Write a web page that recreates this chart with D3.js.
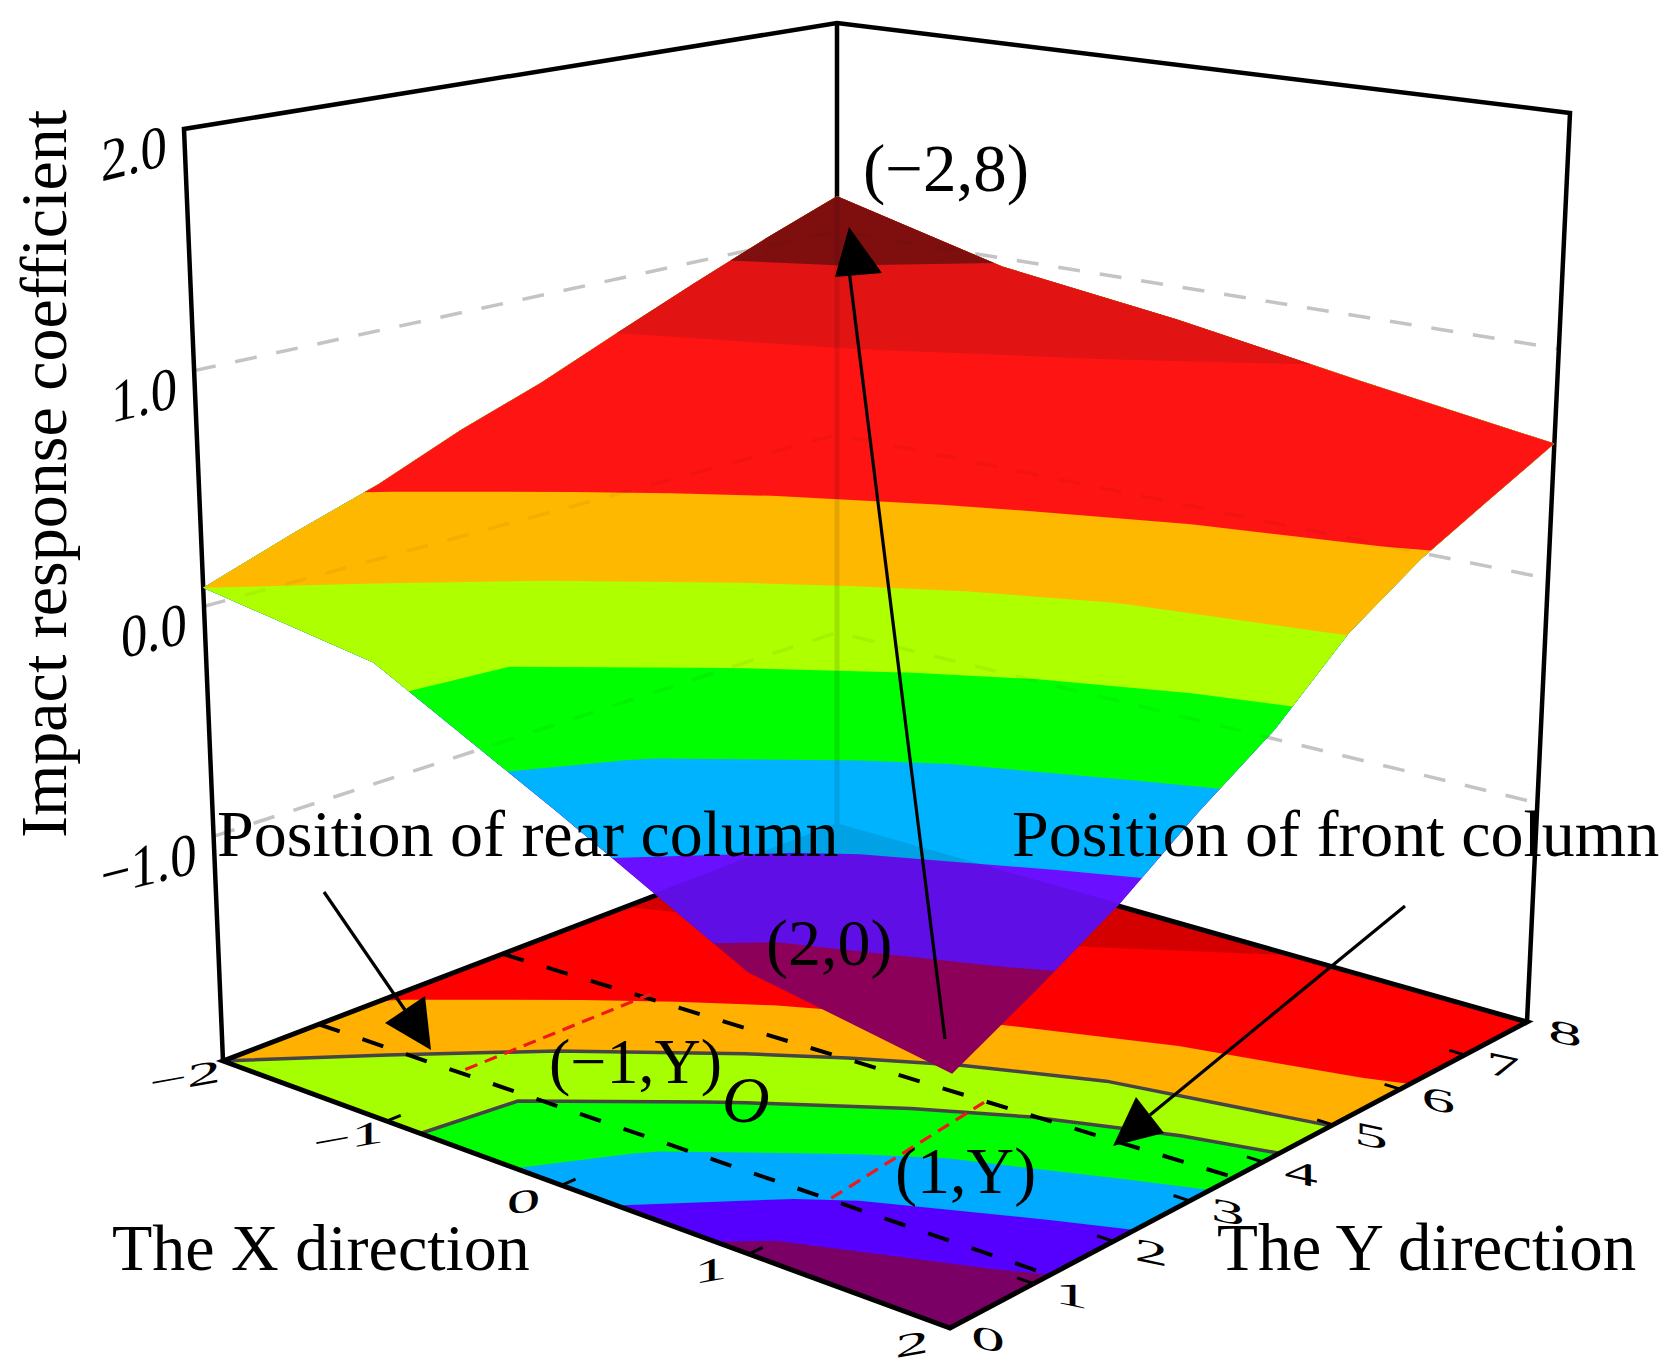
<!DOCTYPE html>
<html>
<head>
<meta charset="utf-8">
<script src="https://cdn.jsdelivr.net/npm/d3@7"></script>
<style>
  html, body { margin: 0; padding: 0; background: #fff; }
  text { font-family: "Liberation Serif", serif; fill: #000; }
</style>
</head>
<body>
<div id="chart"></div>
<script>
// axis ticks
const xTicks = [-2, -1, 0, 1, 2];
const yTicks = [0, 1, 2, 3, 4, 5, 6, 7, 8];
const zTicks = [-1, 0, 1];
const zTickLabels = [["2.0", 2], ["1.0", 1], ["0.0", 0], ["\u22121.0", -1]];

// impact response coefficient along each X line, for Y = 0..8
const zAtXm2 = [0.08, 0.21, 0.33, 0.48, 0.605, 0.755, 0.9, 1.04, 1.17];
const zAtXm1 = [-0.05, -0.06, 0.08, 0.226, 0.39, 0.58, 0.78, 0.89, 0.96];
const zAtX0 = [-0.454, -0.328, -0.163, -0.004, 0.164, 0.37, 0.57, 0.75, 0.85];
const zAtX1 = [-0.873, -0.646, -0.43, -0.229, -0.036, 0.184, 0.41, 0.58, 0.715];
const zAtX2 = [-1.02, -0.84, -0.646, -0.408, -0.196, 0.088, 0.287, 0.44, 0.59];

// contour bands
const levels = [-1.2, -0.8, -0.58, -0.35, -0.13, 0.08, 0.31, 0.75, 0.97];
const floorColors = ["#7a0066", "#5500ff", "#00aaff", "#00ff00", "#a6ff00", "#ffb000", "#ff0000", "#d40000", "#700000"];
const surfaceColors = ["#9e0064", "#6a10ff", "#00b4ff", "#00ff00", "#aeff00", "#ffb800", "#ff1515", "#e21414", "#7f1010"];
const outlinedLevels = [-0.13, 0.08];

// column position lines on the floor, [x, y]
const rearColumn = [[-2, 1.1], [2, 1.2]];
const frontColumn = [[-2, 3.35], [2, 3.6]];
const spanLines = [[[-1.15, 1.2], [-1.15, 3.5]], [[0.9, 1.2], [0.75, 3.5]]];

const width = 1672;
const height = 1368;

// picture positions of the box corners: (-2,0), (2,0), (2,8), (-2,8)
const floorCorners = [[223, 1061], [950, 1328], [1527, 1022], [837, 826]];
const topCorners = [[184, 129], [959, 251], [1570, 113], [837, 23]];
const depthK = 1.05;

const xScale = d3.scaleLinear().domain([-2, 2]).range([0, 1]);
const yScale = d3.scaleLinear().domain([0, 8]).range([0, 1]);
const zScale = d3.scaleLinear().domain([-2, 2]).range([0, 1]);

function quadMap(p) {
  const [[x0, y0], [x1, y1], [x2, y2], [x3, y3]] = p;
  const dx1 = x1 - x2, dx2 = x3 - x2, sx = x0 - x1 + x2 - x3;
  const dy1 = y1 - y2, dy2 = y3 - y2, sy = y0 - y1 + y2 - y3;
  const den = dx1 * dy2 - dx2 * dy1;
  const g = (sx * dy2 - dx2 * sy) / den;
  const h = (dx1 * sy - sx * dy1) / den;
  const a = x1 - x0 + g * x1, b = x3 - x0 + h * x3;
  const d = y1 - y0 + g * y1, e = y3 - y0 + h * y3;
  return (u, v) => {
    const w = g * u + h * v + 1;
    return [(a * u + b * v + x0) / w, (d * u + e * v + y0) / w];
  };
}

const floorAt = quadMap(floorCorners);
const topAt = quadMap(topCorners);

function proj(x, y, z) {
  const u = xScale(x), v = yScale(y);
  const f = floorAt(u, v), t = topAt(u, v);
  const w = zScale(z);
  const s = w / (w + depthK * (1 - w));
  return [f[0] + (t[0] - f[0]) * s, f[1] + (t[1] - f[1]) * s];
}

const svg = d3.select("#chart")
  .append("svg")
  .attr("width", width)
  .attr("height", height)
  .style("display", "block");

const line = d3.line();
const zColumns = [zAtXm2, zAtXm1, zAtX0, zAtX1, zAtX2];
const nx = xTicks.length, ny = yTicks.length;
const values = yTicks.flatMap((_, j) => zColumns.map(c => c[j]));

function surfaceZ(i, j) {
  const i0 = Math.min(Math.floor(i), nx - 2), j0 = Math.min(Math.floor(j), ny - 2);
  const a = i - i0, b = j - j0;
  const lo = zColumns[i0][j0] * (1 - a) + zColumns[i0 + 1][j0] * a;
  const hi = zColumns[i0][j0 + 1] * (1 - a) + zColumns[i0 + 1][j0 + 1] * a;
  return lo * (1 - b) + hi * b;
}

const contours = d3.contours().size([nx, ny]).thresholds(levels)(values);

// contour coordinates put grid nodes at +0.5 and the outer ring on the pixel edge
const gridI = c => Math.max(0, Math.min(nx - 1, c - 0.5));
const gridJ = c => Math.max(0, Math.min(ny - 1, c - 0.5));
const toX = d3.scaleLinear().domain([0, nx - 1]).range(d3.extent(xTicks));
const toY = d3.scaleLinear().domain([0, ny - 1]).range(d3.extent(yTicks));

function ringPath(ring, toScreen) {
  return "M" + ring.map(p => toScreen(gridI(p[0]), gridJ(p[1])).join(",")).join("L") + "Z";
}

function bandPath(contour, toScreen) {
  return contour.coordinates.map(poly => poly.map(r => ringPath(r, toScreen)).join("")).join("");
}

const onFloor = (i, j) => proj(toX(i), toY(j), -2);
const onSurface = (i, j) => proj(toX(i), toY(j), surfaceZ(i, j));

const gridPath = z => line([proj(-2, 0, z), proj(-2, 8, z), proj(2, 8, z)]);
const floorOutline = line([proj(-2, 0, -2), proj(2, 0, -2), proj(2, 8, -2), proj(-2, 8, -2)]) + "Z";
const backEdge = line([proj(-2, 8, 2), proj(-2, 8, -2)]);

// back walls: dashed grid
const walls = svg.append("g").attr("fill", "none");
walls.selectAll("path")
  .data(zTicks)
  .enter()
  .append("path")
  .attr("d", gridPath)
  .attr("stroke", "#c4c4c4")
  .attr("stroke-width", 3.5)
  .attr("stroke-dasharray", "22 20");

// floor contours
const floor = svg.append("g");
floor.selectAll("path")
  .data(contours)
  .enter()
  .append("path")
  .attr("d", c => bandPath(c, onFloor))
  .attr("fill", (c, i) => floorColors[i])
  .attr("fill-rule", "evenodd");

// dark outlines of two levels, without the part that follows the floor edge
function innerRuns(contour) {
  const runs = [];
  const edge = p => {
    const i = gridI(p[0]), j = gridJ(p[1]);
    return i <= 0 || i >= nx - 1 || j <= 0 || j >= ny - 1;
  };
  contour.coordinates.forEach(poly => poly.forEach(ring => {
    let run = [];
    ring.forEach((p, k) => {
      if (k > 0 && edge(p) && edge(ring[k - 1])) {
        if (run.length > 1) runs.push(run);
        run = [];
      }
      run.push(onFloor(gridI(p[0]), gridJ(p[1])));
    });
    if (run.length > 1) runs.push(run);
  }));
  return runs;
}

svg.append("g")
  .selectAll("path")
  .data(contours.filter(c => outlinedLevels.includes(c.value)).flatMap(innerRuns))
  .enter()
  .append("path")
  .attr("d", line)
  .attr("fill", "none")
  .attr("stroke", "#454545")
  .attr("stroke-width", 3.5);

// box
const box = svg.append("g").attr("fill", "none").attr("stroke", "#000");
box.append("path")
  .attr("d", floorOutline)
  .attr("stroke-width", 5);
box.append("path")
  .attr("d", line([proj(-2, 0, -2), proj(-2, 0, 2), proj(-2, 8, 2), proj(2, 8, 2), proj(2, 8, -2)]))
  .attr("stroke-width", 4.5);
box.append("path")
  .attr("d", backEdge)
  .attr("stroke-width", 4.5);

// ticks on the floor edges
box.selectAll(".xtick")
  .data(xTicks)
  .enter()
  .append("path")
  .attr("class", "xtick")
  .attr("d", x => line([proj(x, 0, -2), proj(x, 0.16, -2)]))
  .attr("stroke-width", 3);
box.selectAll(".ytick")
  .data(yTicks)
  .enter()
  .append("path")
  .attr("class", "ytick")
  .attr("d", y => line([proj(2, y, -2), proj(1.92, y, -2)]))
  .attr("stroke-width", 3);

// column lines
svg.append("g")
  .selectAll("path")
  .data([rearColumn, frontColumn])
  .enter()
  .append("path")
  .attr("d", d => line(d.map(p => proj(p[0], p[1], -2))))
  .attr("fill", "none")
  .attr("stroke", "#000")
  .attr("stroke-width", 4)
  .attr("stroke-dasharray", "22 24");

svg.append("g")
  .selectAll("path")
  .data(spanLines)
  .enter()
  .append("path")
  .attr("d", d => line(d.map(p => proj(p[0], p[1], -2))))
  .attr("fill", "none")
  .attr("stroke", "#f01818")
  .attr("stroke-width", 3.2)
  .attr("stroke-dasharray", "13 8");

// surface
const surface = svg.append("g");
surface.selectAll("path")
  .data(contours)
  .enter()
  .append("path")
  .attr("d", c => bandPath(c, onSurface))
  .attr("fill", (c, i) => surfaceColors[i])
  .attr("fill-rule", "evenodd");

// what shows faintly through the surface
svg.append("clipPath")
  .attr("id", "surface-clip")
  .append("path")
  .attr("d", bandPath(contours[0], onSurface));

const through = svg.append("g")
  .attr("clip-path", "url(#surface-clip)")
  .attr("opacity", 0.1);
through.append("path")
  .attr("d", floorOutline)
  .attr("fill", "#000")
  .attr("stroke", "#000")
  .attr("stroke-width", 5);
through.append("path")
  .attr("d", backEdge)
  .attr("fill", "none")
  .attr("stroke", "#000")
  .attr("stroke-width", 5);
through.selectAll(".grid")
  .data(zTicks)
  .enter()
  .append("path")
  .attr("class", "grid")
  .attr("d", gridPath)
  .attr("fill", "none")
  .attr("stroke", "#000")
  .attr("stroke-opacity", 0.45)
  .attr("stroke-width", 3.5)
  .attr("stroke-dasharray", "22 20");

// tick labels
const labels = svg.append("g");
labels.selectAll(".zlabel")
  .data(zTickLabels)
  .enter()
  .append("text")
  .attr("class", "zlabel")
  .attr("text-anchor", "end")
  .attr("font-size", 60)
  .attr("transform", d => {
    const p = proj(-2, 0, d[1]);
    return `translate(${p[0] - 17},${p[1] + 36}) skewY(-14) scale(0.88,1)`;
  })
  .text(d => d[0]);

labels.selectAll(".xlabel")
  .data(xTicks)
  .enter()
  .append("text")
  .attr("class", "xlabel")
  .attr("text-anchor", "middle")
  .attr("font-size", 48)
  .attr("transform", x => {
    const p = proj(x, 0, -2);
    return `translate(${p[0] - 38},${p[1] + 27}) skewY(-10) scale(1.4,0.68)`;
  })
  .text(x => (x < 0 ? "\u2212" + (-x) : x));

labels.selectAll(".ylabel")
  .data(yTicks)
  .enter()
  .append("text")
  .attr("class", "ylabel")
  .attr("text-anchor", "middle")
  .attr("font-size", 48)
  .attr("transform", y => {
    const p = proj(2, y, -2);
    return `translate(${p[0] + 38},${p[1] + 22}) skewY(12) scale(1.4,0.68)`;
  })
  .text(y => y);

// titles and notes
const notes = [
  ["Position of rear column", 217, 856, 66],
  ["Position of front column", 1012, 856, 66],
  ["The X direction", 112, 1270, 66],
  ["The Y direction", 1217, 1270, 67],
  ["(\u22122,8)", 863, 191, 67],
  ["(2,0)", 766, 965, 66],
  ["(\u22121,Y)", 549, 1083, 64],
  ["(1,Y)", 895, 1193, 66]
];
svg.append("g")
  .selectAll("text")
  .data(notes)
  .enter()
  .append("text")
  .attr("x", d => d[1])
  .attr("y", d => d[2])
  .attr("font-size", d => d[3])
  .text(d => d[0]);

svg.append("text")
  .attr("x", 722)
  .attr("y", 1122)
  .attr("font-size", 66)
  .attr("font-style", "italic")
  .text("O");

svg.append("text")
  .attr("transform", "translate(66,838) rotate(-90)")
  .attr("font-size", 66)
  .text("Impact response coefficient");

// arrows
const arrows = [
  { from: [945, 1039], to: [849, 270], head: [[849, 227], [835, 277], [882, 273]] },
  { from: [324, 892], to: [405, 1010], head: [[431, 1050], [385, 1023], [425, 996]] },
  { from: [1405, 906], to: [1150, 1115], head: [[1113, 1146], [1136, 1097], [1164, 1133]] }
];
const arrowG = svg.append("g");
arrowG.selectAll(".shaft")
  .data(arrows)
  .enter()
  .append("path")
  .attr("class", "shaft")
  .attr("d", d => line([d.from, d.to]))
  .attr("stroke", "#000")
  .attr("stroke-width", 3.2)
  .attr("fill", "none");
arrowG.selectAll(".head")
  .data(arrows)
  .enter()
  .append("path")
  .attr("class", "head")
  .attr("d", d => line(d.head) + "Z")
  .attr("fill", "#000");
</script>
</body>
</html>
